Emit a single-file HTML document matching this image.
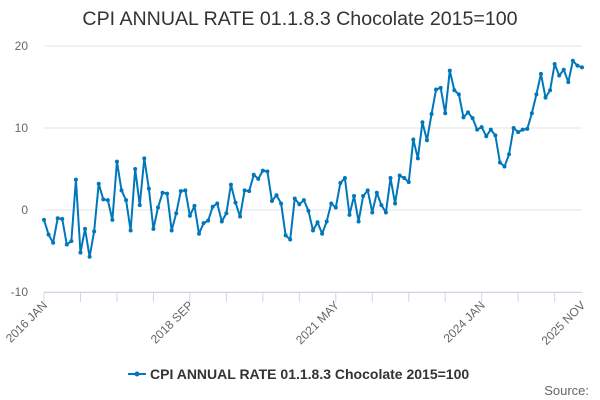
<!DOCTYPE html>
<html><head><meta charset="utf-8"><style>
body{margin:0;background:#fff;font-family:"Liberation Sans",sans-serif}
svg{display:block}
</style></head><body>
<svg id="chart" width="600" height="400">
<text x="300" y="25" text-anchor="middle" font-size="19.6" fill="#333">CPI ANNUAL RATE 01.1.8.3 Chocolate 2015=100</text>
<g id="grid"></g><g id="xaxis"></g><g id="series"></g>
<g>
<line x1="128" y1="374" x2="146" y2="374" stroke="#0077bb" stroke-width="2"/>
<circle cx="137" cy="374" r="2.5" fill="#0077bb"/>
<text x="150" y="379" font-size="14" font-weight="bold" fill="#333">CPI ANNUAL RATE 01.1.8.3 Chocolate 2015=100</text>
</g>
<text x="589" y="395" text-anchor="end" font-size="13" fill="#666">Source:</text>
</svg>
<script>
const values=[-1.2,-3.0,-4.0,-1.0,-1.1,-4.2,-3.8,3.7,-5.2,-2.3,-5.7,-2.6,3.2,1.3,1.2,-1.2,5.9,2.4,1.2,-2.5,5.0,0.6,6.3,2.6,-2.3,0.3,2.1,2.0,-2.5,-0.4,2.3,2.4,-0.7,0.5,-2.9,-1.6,-1.3,0.4,0.8,-1.4,-0.4,3.1,0.9,-0.8,2.4,2.3,4.3,3.8,4.8,4.7,1.1,1.8,0.8,-3.1,-3.6,1.4,0.7,1.2,-0.1,-2.5,-1.5,-2.9,-1.4,0.8,0.3,3.3,3.9,-0.6,1.7,-1.4,1.7,2.4,-0.3,2.1,0.6,-0.3,3.9,0.8,4.2,3.9,3.4,8.6,6.3,10.7,8.5,11.7,14.7,14.9,11.8,17.0,14.6,14.1,11.3,11.9,11.2,9.8,10.1,9.0,9.8,9.1,5.8,5.3,6.8,10.0,9.5,9.8,9.9,11.8,14.1,16.6,13.7,14.6,17.8,16.4,17.1,15.6,18.2,17.6,17.4];
const yTicks=[-10,0,10,20];
const xLabels=[[0,"2016 JAN"],[32,"2018 SEP"],[64,"2021 MAY"],[96,"2024 JAN"],[118,"2025 NOV"]];
const NS="http://www.w3.org/2000/svg";
const x0=44,x1=582,yTop=46,yBot=292,vMin=-10,vMax=20;
const X=i=>x0+i*(x1-x0)/(values.length-1);
const Y=v=>yBot-(v-vMin)*(yBot-yTop)/(vMax-vMin);
function mk(t,a,p){const e=document.createElementNS(NS,t);for(const k in a)e.setAttribute(k,a[k]);p.appendChild(e);return e;}
const g=document.getElementById('grid'),xa=document.getElementById('xaxis'),s=document.getElementById('series');
yTicks.forEach(v=>{
 const l=mk('line',{x1:x0,x2:x1,y1:Y(v),y2:Y(v),stroke:'#e6e6e6'},g);
 
 
 const t=mk('text',{x:28,y:Y(v)+4,'text-anchor':'end','font-size':12,fill:'#666'},g);
 t.textContent=v;
 
 
});
mk('line',{x1:x0,x2:x1,y1:yBot+0.5,y2:yBot+0.5,stroke:'#ccd6eb'},xa);
for(let i=0;i<values.length;i+=8){
 const tk=mk('line',{x1:X(i),x2:X(i),y1:yBot,y2:yBot+10,stroke:'#ccd6eb'},xa);
 
 
}
xLabels.forEach(([i,lab])=>{
 const t=mk('text',{x:X(i)+4,y:yBot+14,'text-anchor':'end','font-size':12,fill:'#666',transform:`rotate(-45 ${X(i)+4} ${yBot+14})`},xa);
 t.textContent=lab;
 
 
});
const p=mk('polyline',{points:values.map((v,i)=>X(i)+','+Y(v)).join(' '),fill:'none',stroke:'#0077bb','stroke-width':2,'stroke-linejoin':'round'},s);


values.forEach((v,i)=>{
 const c=mk('circle',{cx:X(i),cy:Y(v),r:2,fill:'#0077bb'},s);
 
 
});
</script>
</body></html>
